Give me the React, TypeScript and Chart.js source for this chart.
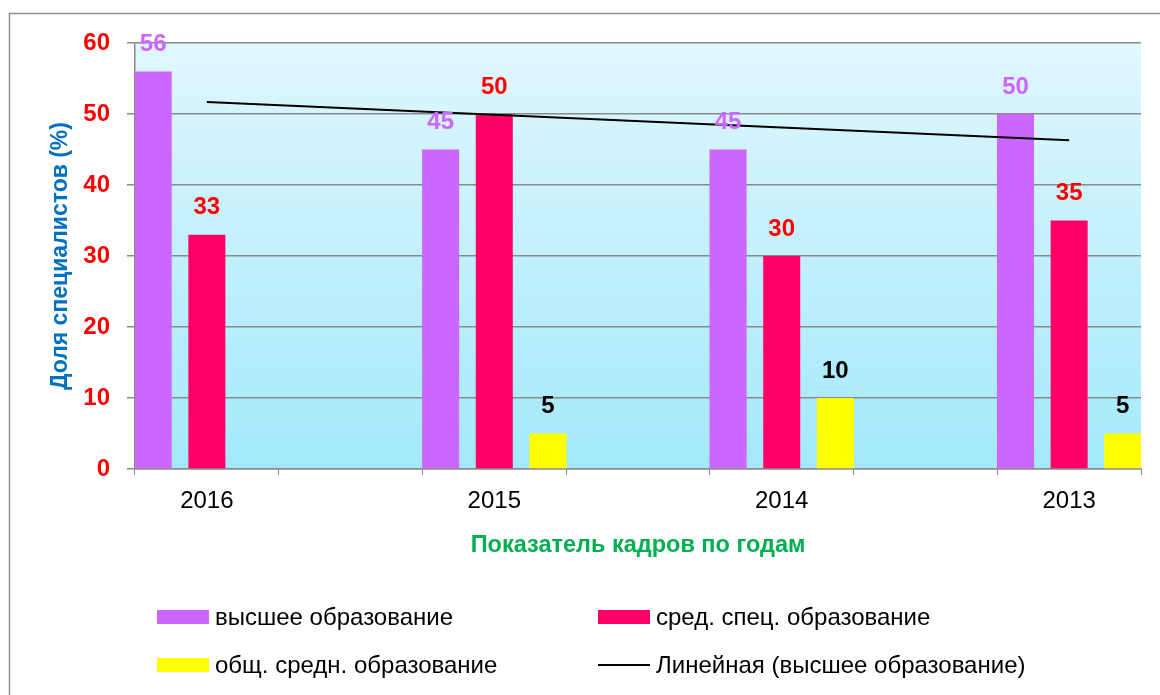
import React, { useEffect, useRef } from "react";
import { Chart, registerables } from "chart.js";

Chart.register(...registerables);

const categories = ["2016", "", "2015", "", "2014", "", "2013"];
const higherEdu = [56, null, 45, null, 45, null, 50];
const specialEdu = [33, null, 50, null, 30, null, 35];
const generalEdu = [0, null, 5, null, 10, null, 5];
const trendHigher = [51.7, null, 49.9, null, 48.1, null, 46.3];
const yTicks = [0, 10, 20, 30, 40, 50, 60];

const seriesNames = [
  "высшее образование",
  "сред. спец. образование",
  "общ. средн. образование",
  "Линейная (высшее образование)",
];

const FONT = "'Liberation Sans', Arial, sans-serif";
const PURPLE = "#CC66FF";
const RED = "#FF0066";
const YELLOW = "#FFFF00";
const labelColors = [PURPLE, "#FF0000", "#000000"];

const bgPlugin = {
  id: "bgPlugin",
  beforeDraw(chart: any) {
    const { ctx, chartArea } = chart;
    ctx.save();
    ctx.fillStyle = "#ffffff";
    ctx.fillRect(0, 0, chart.width, chart.height);
    ctx.strokeStyle = "#8f8f8f";
    ctx.lineWidth = 1.5;
    ctx.strokeRect(9.5, 13.5, 1300, 900);
    const g = ctx.createLinearGradient(0, chartArea.top, 0, chartArea.bottom);
    g.addColorStop(0, "#E0F7FE");
    g.addColorStop(1, "#A3E9FB");
    ctx.fillStyle = g;
    ctx.fillRect(chartArea.left, chartArea.top, chartArea.right - chartArea.left, chartArea.bottom - chartArea.top);
    ctx.restore();
  },
};

const labelPlugin = {
  id: "labelPlugin",
  afterDraw(chart: any) {
    const { ctx } = chart;
    ctx.save();
    ctx.font = `bold 24px ${FONT}`;
    ctx.textAlign = "center";
    ctx.textBaseline = "middle";
    for (let d = 0; d < 3; d++) {
      const meta = chart.getDatasetMeta(d);
      const data = chart.data.datasets[d].data;
      meta.data.forEach((el: any, i: number) => {
        const v = data[i];
        if (v === null || v === undefined || v === 0) return;
        ctx.fillStyle = labelColors[d];
        ctx.fillText(String(v), el.x, el.y - 27);
      });
    }
    ctx.font = `24px ${FONT}`;
    ctx.textAlign = "left";
    ctx.fillStyle = "#000";
    const items = [
      { x: 157, y: 617, color: PURPLE, line: false },
      { x: 598, y: 617, color: RED, line: false },
      { x: 157, y: 665, color: YELLOW, line: false },
      { x: 598, y: 665, color: "#000", line: true },
    ];
    items.forEach((it, i) => {
      if (it.line) {
        ctx.strokeStyle = it.color;
        ctx.lineWidth = 2;
        ctx.beginPath();
        ctx.moveTo(it.x, it.y);
        ctx.lineTo(it.x + 52, it.y);
        ctx.stroke();
      } else {
        ctx.fillStyle = it.color;
        ctx.fillRect(it.x, it.y - 7, 52, 14);
      }
      ctx.fillStyle = "#000";
      ctx.fillText(seriesNames[i], it.x + 58, it.y + 1);
    });
    ctx.restore();
  },
};

export default function App() {
  const ref = useRef<HTMLCanvasElement>(null);
  useEffect(() => {
    if (!ref.current) return;
    const chart = new Chart(ref.current, {
      type: "bar",
      data: {
        labels: categories,
        datasets: [
          { label: seriesNames[0], data: higherEdu, backgroundColor: PURPLE, order: 1 },
          { label: seriesNames[1], data: specialEdu, backgroundColor: RED, order: 1 },
          { label: seriesNames[2], data: generalEdu, backgroundColor: YELLOW, order: 1 },
          {
            type: "line",
            label: seriesNames[3],
            data: trendHigher,
            borderColor: "#000",
            borderWidth: 1.9,
            pointRadius: 0,
            spanGaps: true,
            order: 0,
          } as any,
        ],
      },
      options: {
        responsive: false,
        animation: false,
        events: [],
        layout: { padding: { left: 0, top: 43, right: 19, bottom: 126 } },
        datasets: {
          bar: { categoryPercentage: 1.12, barPercentage: 0.69 },
        } as any,
        plugins: {
          legend: { display: false },
          tooltip: { enabled: false },
        },
        scales: {
          x: {
            grid: {
              offset: true,
              drawOnChartArea: false,
              drawTicks: true,
              tickLength: 6,
              color: "#8a8a8a",
            },
            border: { color: "#8a8a8a", width: 1.5 },
            ticks: {
              color: "#000",
              font: { family: FONT, size: 24 },
              padding: 12,
              autoSkip: false,
              maxRotation: 0,
            },
            title: {
              display: true,
              text: "Показатель кадров по годам",
              color: "#00B050",
              font: { family: FONT, size: 23.5, weight: "bold" },
              padding: { top: 0, bottom: 9 },
            },
            afterFit(scale: any) {
              scale.height = 100;
            },
          },
          y: {
            min: 0,
            max: 60,
            afterBuildTicks(scale: any) {
              scale.ticks = yTicks.map((v) => ({ value: v }));
            },
            grid: { color: "#8a8a8a", lineWidth: 1.5, tickLength: 8 },
            border: { color: "#8a8a8a", width: 1.5 },
            ticks: {
              color: "#FF0000",
              font: { family: FONT, size: 24, weight: "bold" },
              padding: 17,
            },
            title: {
              display: true,
              text: "Доля специалистов (%)",
              color: "#0070C0",
              font: { family: FONT, size: 23, weight: "bold" },
              padding: { top: 47, bottom: 0 },
            },
            afterFit(scale: any) {
              scale.width = 135;
            },
          },
        },
      },
      plugins: [bgPlugin, labelPlugin],
    });
    return () => chart.destroy();
  }, []);
  return (
    <div style={{ position: "fixed", left: 0, top: 0, width: 1160, height: 695, background: "#fff" }}>
      <canvas ref={ref} width={1160} height={695} />
    </div>
  );
}
